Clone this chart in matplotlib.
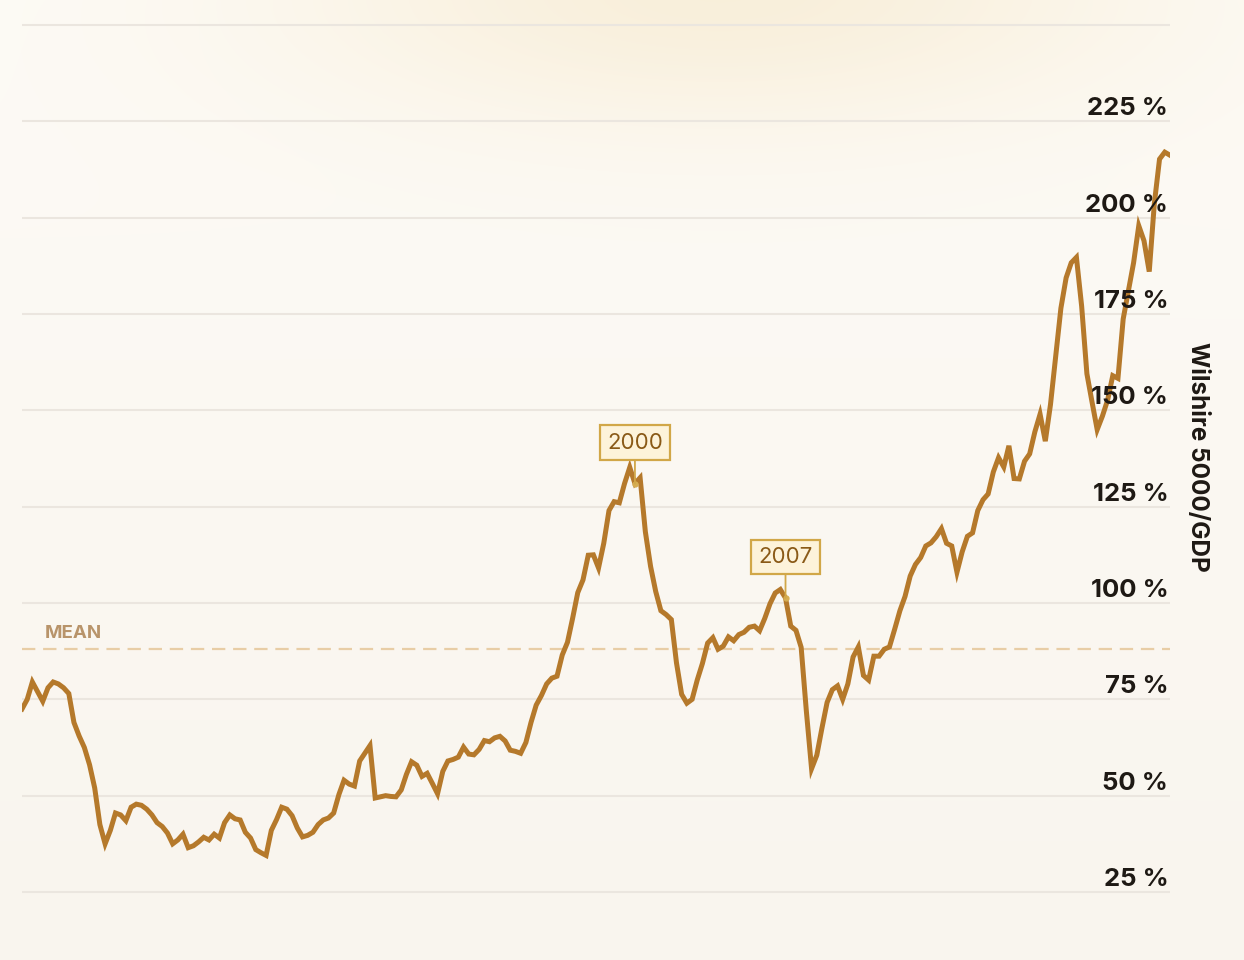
import numpy as np
import pandas as pd
import matplotlib
matplotlib.use("Agg")
import matplotlib.pyplot as plt
import matplotlib.transforms as mtransforms

plt.rcParams['font.family'] = ['Inter', 'DejaVu Sans']

# quarterly Wilshire 5000 / GDP ratio, in %
ratio = [
    72.5, 75.0, 79.5, 77.0, 74.5, 78.0, 79.5, 79.0, 78.0, 76.5,
    69.0, 65.5, 62.5, 58.0, 52.0, 42.5, 37.5, 41.0, 45.5, 45.0,
    43.5, 47.0, 47.8, 47.5, 46.5, 45.0, 43.0, 42.0, 40.3, 37.5,
    38.5, 40.0, 36.5, 37.0, 38.0, 39.2, 38.5, 40.0, 39.0, 43.0,
    45.0, 44.0, 43.7, 40.5, 39.0, 36.0, 35.2, 34.5, 41.0, 43.8,
    47.0, 46.5, 44.8, 41.6, 39.3, 39.7, 40.5, 42.5, 43.7, 44.2,
    45.5, 50.3, 54.0, 53.0, 52.5, 59.0, 61.0, 63.0, 49.4, 49.7,
    50.0, 49.8, 49.7, 51.5, 55.5, 58.8, 57.9, 55.0, 55.8, 53.2,
    50.5, 56.3, 59.0, 59.4, 60.0, 62.6, 60.8, 60.6, 62.0, 64.3,
    64.0, 65.0, 65.4, 64.2, 61.8, 61.5, 61.0, 63.8, 69.0, 73.5,
    76.0, 79.0, 80.5, 81.0, 86.5, 89.8, 96.0, 102.7, 106.0, 112.4,
    112.5, 109.1, 115.5, 124.0, 126.3, 126.0, 131.0, 135.2, 131.0, 132.5,
    118.5, 109.5, 103.0, 98.0, 97.0, 95.7, 84.5, 76.3, 74.0, 75.0,
    80.0, 84.3, 89.6, 91.0, 88.0, 88.8, 91.2, 90.2, 91.8, 92.4,
    93.7, 94.0, 92.8, 96.0, 99.8, 102.6, 103.5, 101.3, 94.0, 92.9,
    88.5, 72.0, 57.0, 60.5, 67.5, 74.2, 77.5, 78.5, 75.0, 79.0,
    86.0, 88.6, 81.2, 80.0, 86.2, 86.2, 88.0, 88.6, 93.2, 98.0,
    101.7, 107.0, 110.0, 111.8, 114.8, 115.6, 117.2, 119.3, 115.5, 114.8,
    108.0, 113.3, 117.3, 118.2, 124.0, 126.8, 128.3, 134.0, 137.7, 135.3,
    140.8, 132.3, 132.2, 136.8, 138.7, 144.4, 149.0, 142.0, 151.5, 164.0,
    176.5, 184.4, 188.3, 189.7, 177.0, 159.5, 152.2, 145.0, 148.5, 152.7,
    159.0, 158.3, 173.7, 181.0, 188.3, 197.9, 194.0, 186.0, 203.7, 215.2,
    217.0, 216.2,
]
dates = pd.date_range('1970-10-01', periods=len(ratio), freq='QS')

mean_value = 88.0
tick_values = [25, 50, 75, 100, 125, 150, 175, 200, 225]
grid_values = tick_values + [250]
ann_labels = ['2000', '2007']
ann_dates = ['2000-04-01', '2007-07-01']

W, H = 1244, 960
fig = plt.figure(figsize=(W / 100, H / 100), dpi=100)

# warm cream background with a soft glow at the top
bg = fig.add_axes([0, 0, 1, 1], zorder=-10)
yy, xx = np.mgrid[0:H, 0:W]
t = yy / H
base_top = np.array([253, 251, 246]) / 255
base_bot = np.array([249, 245, 238]) / 255
img = base_top[None, None, :] * (1 - t[..., None]) + base_bot[None, None, :] * t[..., None]
glow = np.exp(-(((xx - 720) / 430) ** 2 + ((yy + 10) / 140) ** 2))
glow_col = np.array([248, 237, 214]) / 255
img = img * (1 - 0.85 * glow[..., None]) + glow_col[None, None, :] * 0.85 * glow[..., None]
bg.imshow(img, aspect='auto', extent=[0, 1, 0, 1])
bg.axis('off')

# plot area: 22..1170 px wide, 25 % at y=892 and 250 % at y=25
ylo, yhi = 20, 255
ppu = (892 - 25) / 225.0
top_px = 25 - (yhi - 250) * ppu
bot_px = 892 + (25 - ylo) * ppu
ax = fig.add_axes([22 / W, 1 - bot_px / H, (1170 - 22) / W, (bot_px - top_px) / H])
ax.patch.set_alpha(0)
for s in ax.spines.values():
    s.set_visible(False)
ax.set_xlim(dates[0], dates[-1])
ax.set_ylim(ylo, yhi)
ax.set_xticks([])
ax.set_yticks([])

for v in grid_values:
    ax.axhline(v, color='#ebe6df', lw=1.5, zorder=1)

trans = mtransforms.blended_transform_factory(ax.transAxes, ax.transData)

ax.axhline(mean_value, color='#e8cda6', lw=1.6, ls=(0, (6, 3.5)), zorder=2)
ax.text(0.0195, mean_value + 2.0, 'MEAN', transform=trans,
        color='#b8946a', fontsize=13.5, fontweight='bold', ha='left', va='bottom', zorder=3)

ax.plot(dates, ratio, color='#b5792b', lw=3.6, solid_joinstyle='miter', zorder=4)

for v in tick_values:
    ax.text(0.9985, v + 0.3, f'{v} %', transform=trans, ha='right', va='bottom',
            fontsize=18.5, fontweight='bold', color='#1e1914', zorder=6)

fig.text(1197 / W, 1 - 457 / H, 'Wilshire 5000/GDP', rotation=270, ha='center', va='center',
         fontsize=17.5, fontweight='bold', color='#1e1914')

for lab, d in zip(ann_labels, ann_dates):
    dt = pd.Timestamp(d)
    val = ratio[list(dates).index(dt)]
    ax.plot([dt], [val], 'o', ms=3.5, color='#d6ad52', zorder=5)
    ax.annotate(lab, xy=(dt, val), xytext=(0, 31), textcoords='offset pixels',
                ha='center', va='bottom', fontsize=16, color='#8a5a17', zorder=7,
                bbox=dict(boxstyle='square,pad=0.33', fc='#fdf3da', ec='#d1a748', lw=1.6),
                arrowprops=dict(arrowstyle='-', color='#d1a748', lw=1.3, shrinkA=0, shrinkB=0))

fig.savefig('out.png', dpi=100)
